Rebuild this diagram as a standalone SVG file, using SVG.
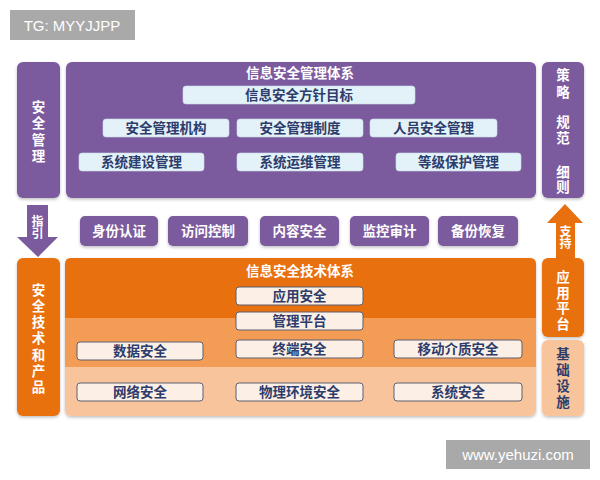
<svg xmlns="http://www.w3.org/2000/svg" width="600" height="480" viewBox="0 0 600 480">
<defs>
<style>
.t{font-family:"Noto Sans CJK SC","Noto Sans",sans-serif;font-weight:bold;font-size:13.5px;text-anchor:middle}
.v{font-family:"Noto Sans CJK SC","Noto Sans",sans-serif;font-weight:bold;font-size:13.5px;writing-mode:vertical-rl;text-anchor:start}
.w{fill:#ffffff}
.n{fill:#2c3c6c}
.pur{fill:#7b5a9e}
.lb{fill:#e3f1f8;stroke:#c9dce8;stroke-width:0.6}
.ob{fill:#fcf0e6;stroke:#5e5f70;stroke-width:1}
.wm{font-family:"Liberation Sans",Arial,sans-serif;font-size:15px;fill:#ffffff}
</style>
<filter id="sh" x="-10%" y="-10%" width="120%" height="130%">
<feDropShadow dx="0" dy="1.5" stdDeviation="1.5" flood-color="#000" flood-opacity="0.25"/>
</filter>
</defs>
<rect width="600" height="480" fill="#ffffff"/>

<g id="badge-tg">
<rect x="10" y="10" width="125" height="30" fill="#a9a9a9"/>
<text x="72" y="31" class="wm" text-anchor="middle">TG: MYYJJPP</text>
</g>

<g id="left-mgmt">
<rect x="17" y="62" width="43" height="136" rx="6" class="pur" filter="url(#sh)"/>
<text class="v w" x="38.5" y="100" style="letter-spacing:3px">安全管理</text>
</g>

<g id="mgmt-system">
<rect x="66" y="62" width="470" height="136" rx="6" class="pur" filter="url(#sh)"/>
<text class="t w" x="300" y="78">信息安全管理体系</text>
<rect x="183" y="86" width="232" height="18" rx="3" class="lb"/>
<text class="t n" x="299" y="100">信息安全方针目标</text>
<rect x="103" y="119" width="126" height="18" rx="3" class="lb"/>
<text class="t n" x="166" y="133">安全管理机构</text>
<rect x="237" y="119" width="126" height="18" rx="3" class="lb"/>
<text class="t n" x="300" y="133">安全管理制度</text>
<rect x="370" y="119" width="127" height="18" rx="3" class="lb"/>
<text class="t n" x="433.5" y="133">人员安全管理</text>
<rect x="79" y="153" width="125" height="18" rx="3" class="lb"/>
<text class="t n" x="141.5" y="167">系统建设管理</text>
<rect x="237" y="153" width="126" height="18" rx="3" class="lb"/>
<text class="t n" x="300" y="167">系统运维管理</text>
<rect x="396" y="153" width="125" height="18" rx="3" class="lb"/>
<text class="t n" x="458.5" y="167">等级保护管理</text>
</g>

<g id="right-policy">
<rect x="542" y="62" width="42" height="136" rx="6" class="pur" filter="url(#sh)"/>
<text class="v w" x="563" y="68" style="letter-spacing:3.5px">策略</text>
<text class="v w" x="563" y="115" style="letter-spacing:3px">规范</text>
<text class="v w" x="563" y="165" style="letter-spacing:2px">细则</text>
</g>

<g id="connectors">
<g id="arrow-guide">
<path d="M27,205 H48 V237 H58 L38,257 L17,237 H27 Z" class="pur"/>
<text class="v w" x="37.5" y="215" style="font-size:12px">指引</text>
</g>
<g id="arrow-support">
<path d="M565,204 L583,223 H575 V258 H556 V223 H547 Z" fill="#e8700f"/>
<text class="v w" x="565.5" y="225" style="font-size:12px">支持</text>
</g>
</g>

<g id="tech-buttons">
<rect x="80" y="216" width="78" height="30" rx="5" class="pur" filter="url(#sh)"/>
<text class="t w" x="119" y="236">身份认证</text>
<rect x="168" y="216" width="80" height="30" rx="5" class="pur" filter="url(#sh)"/>
<text class="t w" x="208" y="236">访问控制</text>
<rect x="260" y="216" width="79" height="30" rx="5" class="pur" filter="url(#sh)"/>
<text class="t w" x="299.5" y="236">内容安全</text>
<rect x="350" y="216" width="79" height="30" rx="5" class="pur" filter="url(#sh)"/>
<text class="t w" x="389.5" y="236">监控审计</text>
<rect x="438" y="216" width="80" height="30" rx="5" class="pur" filter="url(#sh)"/>
<text class="t w" x="478" y="236">备份恢复</text>
</g>

<g id="left-tech">
<rect x="17" y="258" width="43" height="158" rx="6" fill="#e8700f" filter="url(#sh)"/>
<text class="v w" x="38.5" y="283" style="letter-spacing:2.7px">安全技术和产品</text>
</g>

<g id="tech-system">
<rect x="65" y="258" width="471" height="158" rx="6" fill="#f8c49b" filter="url(#sh)"/>
<path d="M65,318 H536 V367 H65 Z" fill="#f39c55"/>
<path d="M71,258 H530 Q536,258 536,264 V318 H65 V264 Q65,258 71,258 Z" fill="#e8700f"/>
<text class="t w" x="300" y="276">信息安全技术体系</text>
<rect x="236" y="287" width="127" height="18" rx="3" class="ob"/>
<text class="t n" x="299.5" y="301">应用安全</text>
<rect x="236" y="312" width="127" height="18" rx="3" class="ob"/>
<text class="t n" x="299.5" y="326">管理平台</text>
<rect x="77" y="342" width="126" height="18" rx="3" class="ob"/>
<text class="t n" x="140" y="356">数据安全</text>
<rect x="236" y="340" width="127" height="18" rx="3" class="ob"/>
<text class="t n" x="299.5" y="354">终端安全</text>
<rect x="394" y="340" width="128" height="18" rx="3" class="ob"/>
<text class="t n" x="458" y="354">移动介质安全</text>
<rect x="77" y="383" width="126" height="18" rx="3" class="ob"/>
<text class="t n" x="140" y="397">网络安全</text>
<rect x="236" y="383" width="127" height="18" rx="3" class="ob"/>
<text class="t n" x="299.5" y="397">物理环境安全</text>
<rect x="394" y="383" width="128" height="18" rx="3" class="ob"/>
<text class="t n" x="458" y="397">系统安全</text>
</g>

<g id="right-app-platform">
<rect x="542" y="258" width="42" height="79" rx="6" fill="#e8700f" filter="url(#sh)"/>
<text class="v w" x="563" y="270" style="letter-spacing:2.2px">应用平台</text>
</g>

<g id="right-infra">
<rect x="542" y="340" width="42" height="76" rx="6" fill="#f8c49b" filter="url(#sh)"/>
<text class="v n" x="563" y="347" style="letter-spacing:2.5px">基础设施</text>
</g>

<g id="badge-site">
<rect x="446" y="440" width="144" height="29" fill="#a9a9a9"/>
<text x="518" y="460" class="wm" text-anchor="middle">www.yehuzi.com</text>
</g>
</svg>
